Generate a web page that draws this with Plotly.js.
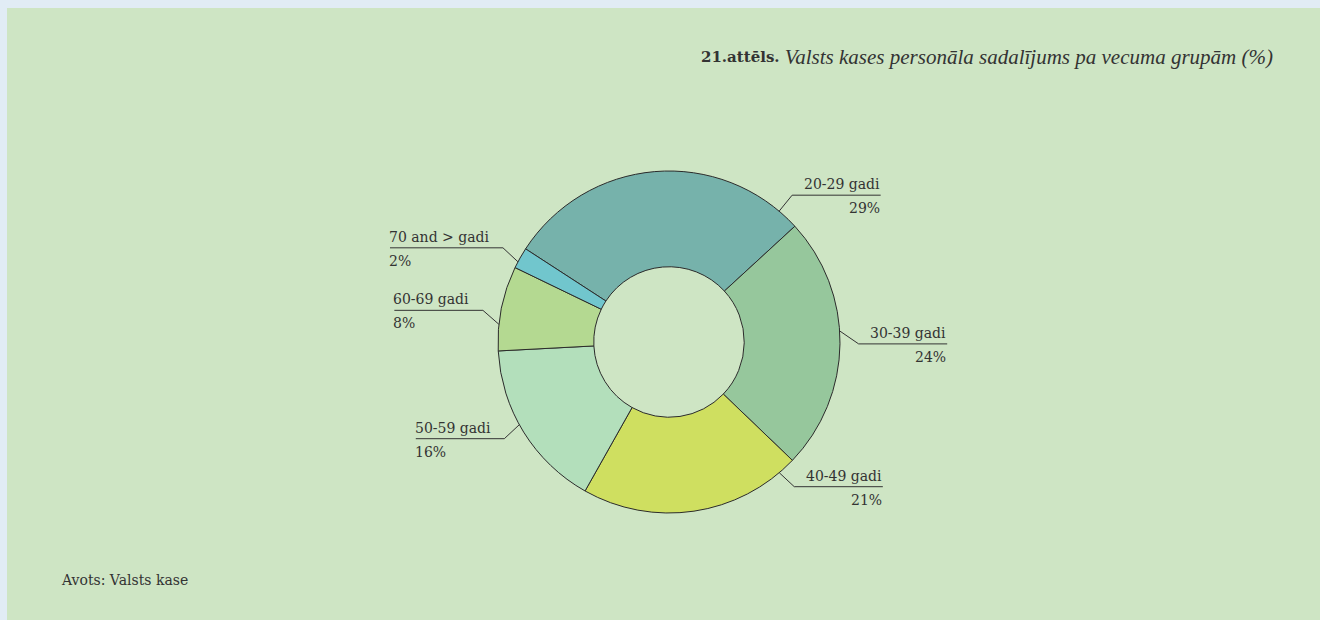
<!DOCTYPE html>
<html>
<head>
<meta charset="utf-8">
<script src="https://cdn.plot.ly/plotly-3.0.1.min.js"></script>
<style>
  html, body { margin: 0; padding: 0; background: #e1ecf5; width: 1320px; height: 620px; overflow: hidden; }
  #chart { position: absolute; left: 7px; top: 8px; width: 1313px; height: 612px; }
</style>
</head>
<body>
<div id="chart"></div>
<script>
// ---- data ----
const categories = ["20-29 gadi", "30-39 gadi", "40-49 gadi", "50-59 gadi", "60-69 gadi", "70 and > gadi"];
const shares = [29, 24, 21, 16, 8, 2];
const sliceColors = ["#76b2ab", "#96c79c", "#cfdf60", "#b3dfbb", "#b4d991", "#71c6cd"];
const titleBold = "21.attēls.";
const titleItalic = "Valsts kases personāla sadalījums pa vecuma grupām (%)";
const sourceText = "Avots: Valsts kase";

// ---- layout constants (pixels inside the chart div) ----
const W = 1313, H = 612;
const CX = 662, CY = 334, R = 171, HOLE = 0.44, ROT = -57;
const FONT = "DejaVu Serif", FS = 14, TXT = "#333333";
const TFONT = "Liberation Serif", TFS = 21;
const TITLE_RIGHT = 1266, TITLE_Y = 49;
// leader placement: fraction along slice where leader touches, knee offset
const leader = [
  {frac: 0.93, dx: 13, dy: -16},
  {frac: 0.45, dx: 19, dy: 13},
  {frac: 0.08, dx: 15, dy: 14},
  {frac: 0.55, dx: -15, dy: 14},
  {frac: 0.31, dx: -16, dy: -14},
  {frac: 0.30, dx: -15, dy: -14}
];

const px = x => x / W;
const py = y => 1 - y / H;

const canvas = document.createElement("canvas");
const ctx = canvas.getContext("2d");
ctx.font = FS + "px '" + FONT + "'";

const total = shares.reduce((a, b) => a + b, 0);
const shapes = [];
const annotations = [];
let start = ROT;
shares.forEach((v, i) => {
  const span = v / total * 360;
  const a = (start + leader[i].frac * span) * Math.PI / 180;
  start += span;
  const ax = CX + R * Math.sin(a), ay = CY - R * Math.cos(a);
  const kx = ax + leader[i].dx, ky = ay + leader[i].dy;
  const len = ctx.measureText(categories[i]).width + 13;
  const right = leader[i].dx > 0;
  const ex = right ? kx + len : kx - len;
  shapes.push({type: "path", xref: "paper", yref: "paper",
    path: `M${px(ax)},${py(ay)} L${px(kx)},${py(ky)} L${px(ex)},${py(ky)}`,
    line: {color: "#333333", width: 1}});
  const tx = right ? ex + 1 : ex - 3;
  const anchor = right ? "right" : "left";
  annotations.push({xref: "paper", yref: "paper", x: px(tx), y: py(ky - 11), xanchor: anchor, yanchor: "middle",
    text: categories[i], showarrow: false, font: {family: FONT, size: FS, color: TXT}});
  annotations.push({xref: "paper", yref: "paper", x: px(tx), y: py(ky + 13), xanchor: anchor, yanchor: "middle",
    text: Math.round(v / total * 100) + "%", showarrow: false, font: {family: FONT, size: FS, color: TXT}});
});

// bold figure number placed just left of the italic title
ctx.font = "italic " + TFS + "px '" + TFONT + "'";
const italicW = ctx.measureText(titleItalic).width;
annotations.push({xref: "paper", yref: "paper", x: px(TITLE_RIGHT - italicW - 3), y: py(TITLE_Y), xanchor: "right", yanchor: "middle",
  text: "<b>" + titleBold + "</b>", showarrow: false, font: {family: FONT, size: 15, color: TXT}});

annotations.push({xref: "paper", yref: "paper", x: px(52), y: py(572), xanchor: "left", yanchor: "middle",
  text: sourceText, showarrow: false, font: {family: FONT, size: 14, color: TXT}});

const trace = {
  type: "pie",
  labels: categories,
  values: shares,
  sort: false,
  direction: "clockwise",
  rotation: ROT,
  hole: HOLE,
  textinfo: "none",
  hoverinfo: "label+percent",
  marker: {colors: sliceColors, line: {color: "#2b2b2b", width: 1}},
  domain: {x: [px(CX - R), px(CX + R)], y: [py(CY + R), py(CY - R)]},
  showlegend: false
};

const layout = {
  width: W, height: H,
  margin: {l: 0, r: 0, t: 0, b: 0},
  paper_bgcolor: "#cee5c4",
  plot_bgcolor: "#cee5c4",
  showlegend: false,
  title: {
    text: "<i>" + titleItalic + "</i>",
    x: px(TITLE_RIGHT), xanchor: "right", xref: "paper",
    y: py(TITLE_Y), yanchor: "middle", yref: "paper",
    font: {family: TFONT, size: TFS, color: TXT}
  },
  shapes: shapes,
  annotations: annotations
};

Plotly.newPlot("chart", [trace], layout, {displayModeBar: false, staticPlot: true});
</script>
</body>
</html>
